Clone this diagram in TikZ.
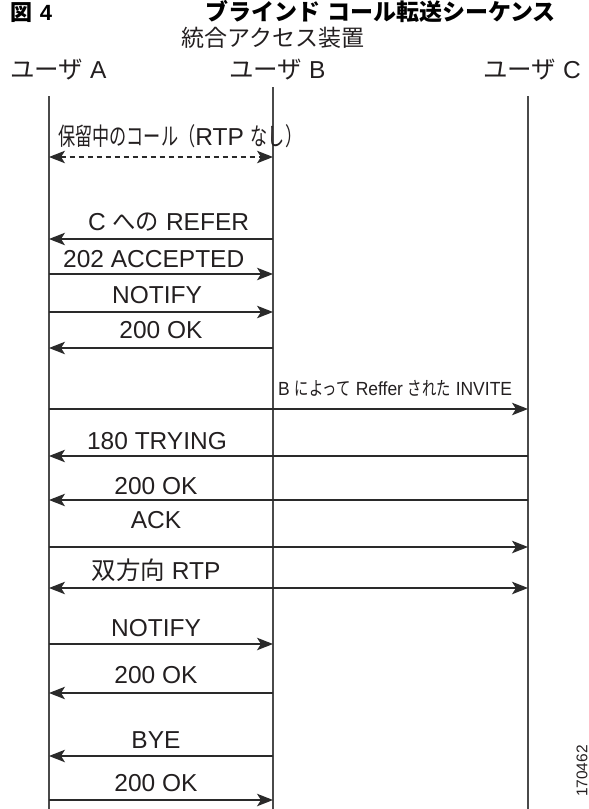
\documentclass[tikz,border=0pt]{standalone}
\usepackage{fontspec}
\usetikzlibrary{arrows.meta}
\setmainfont{Liberation Sans}
\newfontfamily\jp{Noto Sans CJK JP}
\definecolor{txt}{HTML}{231F20}
\definecolor{linec}{HTML}{4A4A4A}
\definecolor{arrc}{HTML}{2A2A2A}
\newcommand\JN[2][0.70]{\scalebox{#1}[1]{\jp #2}}
\newcommand\fs[1]{\fontsize{#1}{#1}\selectfont}
\begin{document}
\begin{tikzpicture}[x=1pt,y=-1pt,
  lbl/.style={anchor=base, inner sep=0pt, text=txt, font=\fs{24.5}},
  lblw/.style={anchor=base west, inner sep=0pt, text=txt, font=\fs{24.5}},
  life/.style={draw=linec, line width=1.4pt},
  msg/.style={draw=arrc, line width=1.2pt, -{Stealth[length=16pt,width=12.5pt,inset=4pt]}},
  dmsg/.style={draw=arrc, line width=1.2pt, {Stealth[length=16pt,width=12.5pt,inset=4pt]}-{Stealth[length=16pt,width=12.5pt,inset=4pt]}},
  dashmsg/.style={dmsg, dash pattern=on 5pt off 4pt}]
\useasboundingbox (0,0) rectangle (589,809);

% headings
\node[anchor=base west, inner sep=0pt, text=black, font=\fs{22}\bfseries] (fig) at (10,20.5) {{\jp\bfseries 図}\hspace{0.35em}4};
\node[anchor=base west, inner sep=0pt, text=black, font=\fs{23}] (title) at (205,20.5) {{\jp\bfseries ブラインド\hspace{0.3em}コール転送シーケンス}};
\node[lbl, font=\fs{23}] (dev) at (273,46) {\jp 統合アクセス装置};
\node[lblw] (ua) at (10,78) {{\jp ユーザ} A};
\node[lblw] (ub) at (229,78) {{\jp ユーザ} B};
\node[lblw] (uc) at (483,78) {{\jp ユーザ} C};

% lifelines
\coordinate (At) at (49,96);  \coordinate (Ab) at (49,809);
\coordinate (Bt) at (273,87); \coordinate (Bb) at (273,809);
\coordinate (Ct) at (528,96); \coordinate (Cb) at (528,809);
\draw[life] (At) -- (Ab);
\draw[life] (Bt) -- (Bb);
\draw[life] (Ct) -- (Cb);

% message anchor points
\foreach \n/\y in {1/157,2/239,3/274,4/312,5/348,6/409,7/456,8/500,9/547,10/588,11/644,12/693,13/756,14/800}{
  \coordinate (a\n) at (49,\y);
  \coordinate (b\n) at (273,\y);
  \coordinate (c\n) at (528,\y);
}

% messages
\draw[dashmsg] (a1) -- (b1);
\node[lblw] (l1) at (58,145) {\JN{保留中のコール（}RTP \JN{なし）}};

\draw[msg] (b2) -- (a2);
\node[lblw] (l2) at (88,230) {C \JN[0.95]{への} REFER};

\draw[msg] (a3) -- (b3);
\node[lblw] (l3) at (63,267) {202 ACCEPTED};

\draw[msg] (a4) -- (b4);
\node[lbl] (l4) at (157,303) {NOTIFY};

\draw[msg] (b5) -- (a5);
\node[lbl] (l5) at (161,338) {200 OK};

\draw[msg] (a6) -- (c6);
\node[anchor=base west, inner sep=0pt, text=txt, font=\fs{19}] (l6) at (278,395)
  {\scalebox{0.92}[1]{B \scalebox{0.82}[1]{\jp によって} Reffer \scalebox{0.82}[1]{\jp された} INVITE}};

\draw[msg] (c7) -- (a7);
\node[lbl] (l7) at (157,449) {180 TRYING};

\draw[msg] (c8) -- (a8);
\node[lbl] (l8) at (156,494) {200 OK};

\draw[msg] (a9) -- (c9);
\node[lbl] (l9) at (156,528) {ACK};

\draw[dmsg] (a10) -- (c10);
\node[lbl] (l10) at (156,579) {{\jp 双方向} RTP};

\draw[msg] (a11) -- (b11);
\node[lbl] (l11) at (156,636) {NOTIFY};

\draw[msg] (b12) -- (a12);
\node[lbl] (l12) at (156,683) {200 OK};

\draw[msg] (b13) -- (a13);
\node[lbl] (l13) at (156,748) {BYE};

\draw[msg] (a14) -- (b14);
\node[lbl] (l14) at (156,791) {200 OK};

\node[rotate=90, inner sep=0pt, text=txt, font=\fs{15.5}] (num) at (582,771) {170462};
\end{tikzpicture}
\end{document}
